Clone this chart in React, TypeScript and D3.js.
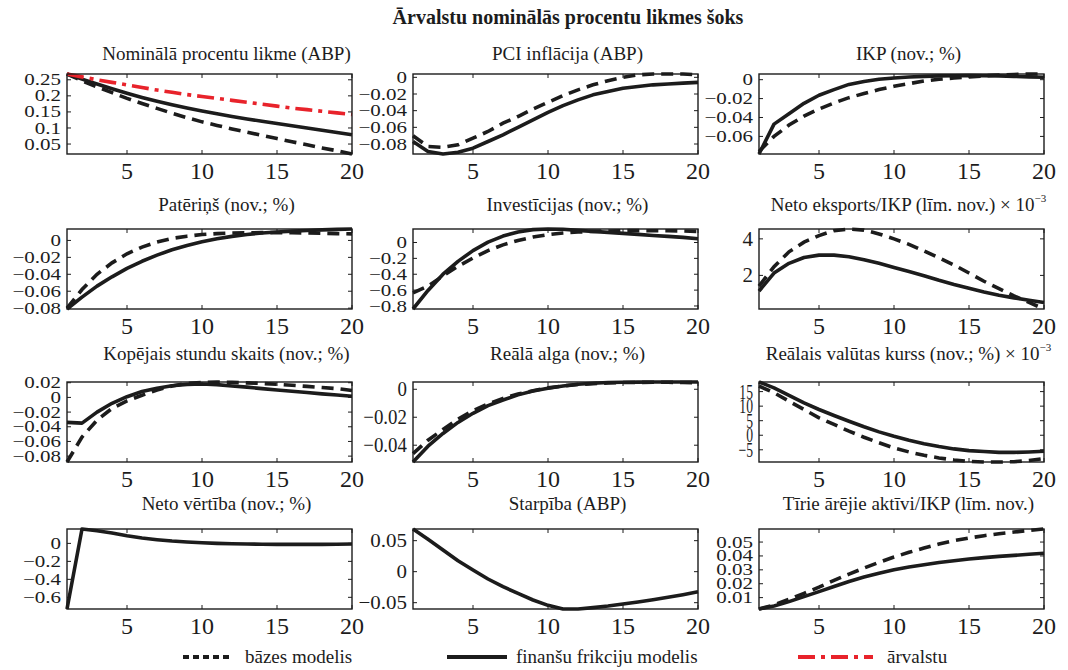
import React from 'react';
import * as d3 from 'd3';

// horizon (quarters)
const quarters = [1, 2, 3, 4, 5, 6, 7, 8, 9, 10, 11, 12, 13, 14, 15, 16, 17, 18, 19, 20];
const xTicks = [5, 10, 15, 20];

// Nominālā procentu likme (ABP)
const rateBase = [0.268, 0.247, 0.228, 0.210, 0.192, 0.176, 0.161, 0.146, 0.132, 0.119, 0.108, 0.097, 0.087, 0.077, 0.067, 0.057, 0.048, 0.038, 0.029, 0.019];
const rateFin = [0.268, 0.252, 0.237, 0.222, 0.208, 0.195, 0.183, 0.172, 0.162, 0.153, 0.144, 0.136, 0.128, 0.121, 0.114, 0.107, 0.100, 0.093, 0.086, 0.079];
const rateForeign = [0.268, 0.259, 0.250, 0.242, 0.234, 0.226, 0.218, 0.211, 0.204, 0.198, 0.192, 0.186, 0.180, 0.174, 0.168, 0.162, 0.157, 0.152, 0.147, 0.142];
const rateTicks = [0.05, 0.1, 0.15, 0.2, 0.25];

// PCI inflācija (ABP)
const inflBase = [-0.070, -0.083, -0.084, -0.081, -0.073, -0.065, -0.055, -0.047, -0.038, -0.030, -0.022, -0.015, -0.009, -0.004, 0.000, 0.003, 0.004, 0.004, 0.004, 0.003];
const inflFin = [-0.077, -0.089, -0.092, -0.090, -0.085, -0.077, -0.069, -0.060, -0.051, -0.042, -0.034, -0.027, -0.021, -0.017, -0.013, -0.011, -0.009, -0.008, -0.007, -0.006];
const inflTicks = [0, -0.02, -0.04, -0.06, -0.08];

// IKP (nov.; %)
const gdpBase = [-0.076, -0.060, -0.048, -0.0386, -0.031, -0.0246, -0.019, -0.0147, -0.0105, -0.007, -0.0042, -0.0014, 0.0004, 0.0018, 0.003, 0.004, 0.005, 0.0055, 0.006, 0.006];
const gdpFin = [-0.0786, -0.047, -0.036, -0.025, -0.0165, -0.0105, -0.005, -0.002, 0.0004, 0.0018, 0.0028, 0.0035, 0.004, 0.0042, 0.0043, 0.0042, 0.004, 0.0035, 0.003, 0.0025];
const gdpTicks = [0, -0.02, -0.04, -0.06];

// Patēriņš (nov.; %)
const consBase = [-0.080, -0.058, -0.040, -0.0265, -0.0158, -0.0079, -0.002, 0.0024, 0.005, 0.007, 0.008, 0.0087, 0.009, 0.0092, 0.0092, 0.009, 0.0088, 0.0085, 0.008, 0.0077];
const consFin = [-0.081, -0.067, -0.054, -0.043, -0.033, -0.0246, -0.0174, -0.011, -0.006, -0.0016, 0.002, 0.0048, 0.0071, 0.0087, 0.0099, 0.011, 0.0118, 0.0125, 0.013, 0.0135];
const consTicks = [0, -0.02, -0.04, -0.06, -0.08];

// Investīcijas (nov.; %)
const invBase = [-0.634, -0.55, -0.42, -0.30, -0.196, -0.102, -0.03, 0.026, 0.068, 0.098, 0.119, 0.132, 0.14, 0.145, 0.149, 0.149, 0.148, 0.147, 0.145, 0.140];
const invFin = [-0.838, -0.604, -0.40, -0.238, -0.102, 0.004, 0.081, 0.132, 0.162, 0.170, 0.166, 0.153, 0.140, 0.128, 0.115, 0.102, 0.089, 0.077, 0.064, 0.047];
const invTicks = [0, -0.2, -0.4, -0.6, -0.8];

// Neto eksports/IKP (līm. nov.) x 10^-3
const nxBase = [1.41, 2.48, 3.29, 3.82, 4.18, 4.45, 4.54, 4.48, 4.27, 4.0, 3.7, 3.34, 2.96, 2.57, 2.13, 1.68, 1.27, 0.88, 0.52, 0.16];
const nxFin = [1.14, 2.125, 2.66, 2.98, 3.11, 3.11, 3.02, 2.86, 2.66, 2.43, 2.21, 1.98, 1.73, 1.5, 1.29, 1.09, 0.91, 0.77, 0.64, 0.52];
const nxTicks = [2, 4];

// Kopējais stundu skaits (nov.; %)
const hoursBase = [-0.088, -0.054, -0.031, -0.015, -0.0047, 0.003, 0.010, 0.0156, 0.019, 0.0205, 0.021, 0.0205, 0.0198, 0.019, 0.018, 0.0165, 0.015, 0.0135, 0.012, 0.0093];
const hoursFin = [-0.034, -0.035, -0.020, -0.008, 0.001, 0.008, 0.0125, 0.016, 0.0178, 0.0183, 0.0174, 0.0156, 0.014, 0.012, 0.010, 0.0083, 0.0066, 0.0048, 0.0032, 0.0015];
const hoursTicks = [0.02, 0, -0.02, -0.04, -0.06, -0.08];

// Reālā alga (nov.; %)
const wageBase = [-0.046, -0.0364, -0.0287, -0.0213, -0.0153, -0.0105, -0.0065, -0.0034, -0.001, 0.001, 0.0024, 0.0034, 0.004, 0.0045, 0.0048, 0.0049, 0.005, 0.005, 0.0048, 0.0047];
const wageFin = [-0.052, -0.0407, -0.0316, -0.0237, -0.0172, -0.0117, -0.0077, -0.004, -0.0012, 0.0007, 0.0024, 0.0036, 0.0043, 0.0048, 0.005, 0.0051, 0.0052, 0.0052, 0.0052, 0.0052];
const wageTicks = [0, -0.02, -0.04];

// Reālais valūtas kurss (nov.; %) x 10^-3
const rerBase = [16.9, 14.6, 11.7, 8.85, 6.0, 3.7, 1.4, -0.7, -2.6, -4.4, -5.75, -6.9, -7.8, -8.5, -9.0, -9.2, -9.2, -9.1, -8.7, -8.0];
const rerFin = [18.3, 16.3, 13.7, 11.1, 8.85, 6.8, 4.8, 2.9, 1.15, -0.35, -1.7, -2.9, -3.9, -4.7, -5.3, -5.6, -5.9, -5.9, -5.75, -5.5];
const rerTicks = [15, 10, 5, 0, -5];

// Neto vērtība (nov.; %)
const nwFin = [-0.73, 0.16, 0.14, 0.115, 0.085, 0.059, 0.041, 0.026, 0.015, 0.007, 0.0, -0.004, -0.007, -0.009, -0.011, -0.011, -0.011, -0.011, -0.009, -0.007];
const nwTicks = [0, -0.2, -0.4, -0.6];

// Starpība (ABP)
const spreadFin = [0.0688, 0.0522, 0.0349, 0.0177, 0.0027, -0.0118, -0.0242, -0.035, -0.0457, -0.0543, -0.0602, -0.0602, -0.058, -0.0554, -0.0522, -0.0489, -0.0452, -0.0414, -0.0371, -0.0323];
const spreadTicks = [0.05, 0, -0.05];

// Tīrie ārējie aktīvi/IKP (līm. nov.)
const nfaBase = [0.0018, 0.0047, 0.0088, 0.0131, 0.0175, 0.0224, 0.0269, 0.0313, 0.0354, 0.0392, 0.0426, 0.0457, 0.0486, 0.051, 0.0529, 0.0546, 0.056, 0.0572, 0.0584, 0.0594];
const nfaFin = [0.0018, 0.004, 0.0071, 0.0107, 0.0143, 0.018, 0.0216, 0.0248, 0.0276, 0.030, 0.032, 0.0337, 0.0353, 0.0366, 0.0378, 0.0388, 0.0397, 0.0404, 0.0412, 0.0419];
const nfaTicks = [0.01, 0.02, 0.03, 0.04, 0.05];

type PanelDef = {
  title: string;
  sup?: string;
  fin: number[];
  base?: number[];
  foreign?: number[];
  ticks: number[];
  squash?: [number, number]; // y tick label stretch (x, y)
};

const panels: PanelDef[] = [
  { title: 'Nominālā procentu likme (ABP)', fin: rateFin, base: rateBase, foreign: rateForeign, ticks: rateTicks },
  { title: 'PCI inflācija  (ABP)', fin: inflFin, base: inflBase, ticks: inflTicks },
  { title: 'IKP (nov.; %)', fin: gdpFin, base: gdpBase, ticks: gdpTicks },
  { title: 'Patēriņš (nov.; %)', fin: consFin, base: consBase, ticks: consTicks },
  { title: 'Investīcijas (nov.; %)', fin: invFin, base: invBase, ticks: invTicks },
  { title: 'Neto eksports/IKP (līm. nov.) × 10', sup: '−3', fin: nxFin, base: nxBase, ticks: nxTicks, squash: [1, 1] },
  { title: 'Kopējais stundu skaits (nov.; %)', fin: hoursFin, base: hoursBase, ticks: hoursTicks },
  { title: 'Reālā alga (nov.; %)', fin: wageFin, base: wageBase, ticks: wageTicks, squash: [0.9, 1] },
  { title: 'Reālais valūtas kurss (nov.; %) × 10', sup: '−3', fin: rerFin, base: rerBase, ticks: rerTicks, squash: [0.65, 1] },
  { title: 'Neto vērtība (nov.; %)', fin: nwFin, ticks: nwTicks },
  { title: 'Starpība (ABP)', fin: spreadFin, ticks: spreadTicks, squash: [1, 0.9] },
  { title: 'Tīrie ārējie aktīvi/IKP (līm. nov.)', fin: nfaFin, base: nfaBase, ticks: nfaTicks },
];

const FONT = '"Liberation Serif", "Times New Roman", serif';
const colLeft = [67, 413, 759];
const rowTop = [74, 229, 382, 529];
const W = 285, H = 80;
const titleGap = [14, 18, 22, 19];
const titleShift = [17, 12, 7];
const INK = '#1c1c1c';
const RED = '#e8232b';
const fmt = d3.format('~g');

function Panel({ p, left, top, tx, ty }: { p: PanelDef; left: number; top: number; tx: number; ty: number }) {
  const x = d3.scaleLinear().domain([1, 20]).range([left, left + W]);
  const all = [...p.fin, ...(p.base || []), ...(p.foreign || [])];
  const ext = d3.extent(all) as [number, number];
  const y = d3.scaleLinear().domain(ext).range([top + H, top]);
  const line = d3.line<number>().x((_, i) => x(quarters[i])).y(d => y(d));
  const [sx, sy] = p.squash || [1, 0.8];
  return (
    <g>
      <text x={tx} y={ty} textAnchor="middle" fontSize={19} fontFamily={FONT} fill={INK}>
        {p.title}
        {p.sup && <tspan dy={-9} fontSize={11}>{p.sup}</tspan>}
      </text>
      {p.base && <path d={line(p.base) || ''} fill="none" stroke={INK} strokeWidth={3.6} strokeDasharray="12,7" />}
      <path d={line(p.fin) || ''} fill="none" stroke={INK} strokeWidth={3.6} strokeLinejoin="round" />
      {p.foreign && <path d={line(p.foreign) || ''} fill="none" stroke={RED} strokeWidth={3.6} strokeDasharray="17,6,4,6" />}
      <rect x={left} y={top} width={W} height={H} fill="none" stroke={INK} strokeWidth={1.4} />
      {p.ticks.map(t => (
        <g key={'y' + t}>
          <line x1={left} x2={left + 4} y1={y(t)} y2={y(t)} stroke={INK} strokeWidth={1} />
          <line x1={left + W} x2={left + W - 4} y1={y(t)} y2={y(t)} stroke={INK} strokeWidth={1} />
          <text
            transform={`translate(${left - 6},${y(t)}) scale(${sx},${sy})`}
            dy="0.33em"
            textAnchor="end"
            fontSize={21}
            fontFamily={FONT}
            fill={INK}
          >
            {fmt(t)}
          </text>
        </g>
      ))}
      {xTicks.map(t => (
        <g key={'x' + t}>
          <line x1={x(t)} x2={x(t)} y1={top + H} y2={top + H - 4} stroke={INK} strokeWidth={1} />
          <line x1={x(t)} x2={x(t)} y1={top} y2={top + 4} stroke={INK} strokeWidth={1} />
          <text x={x(t)} y={top + H + 25} textAnchor="middle" fontSize={24} fontFamily={FONT} fill={INK}>
            {t}
          </text>
        </g>
      ))}
    </g>
  );
}

export default function App() {
  return (
    <svg width={1068} height={670} style={{ position: 'absolute', left: 0, top: 0, background: '#fff' }}>
      <rect width={1068} height={670} fill="#fff" />
      <text x={568} y={24} textAnchor="middle" fontSize={20} fontWeight="bold" fontFamily={FONT} fill={INK}>
        Ārvalstu nominālās procentu likmes šoks
      </text>
      {panels.map((p, i) => {
        const c = i % 3, r = Math.floor(i / 3);
        const left = colLeft[c], top = rowTop[r];
        return <Panel key={i} p={p} left={left} top={top} tx={left + W / 2 + titleShift[c]} ty={top - titleGap[r]} />;
      })}
      <g fontFamily={FONT} fontSize={19} fill={INK}>
        <line x1={183} x2={230} y1={657} y2={657} stroke={INK} strokeWidth={4} strokeDasharray="6,4" />
        <text x={245} y={663}>bāzes modelis</text>
        <line x1={447} x2={507} y1={657} y2={657} stroke={INK} strokeWidth={4} />
        <text x={516} y={663}>finanšu frikciju modelis</text>
        <line x1={798} x2={873} y1={657} y2={657} stroke={RED} strokeWidth={4} strokeDasharray="17,6,4,6" />
        <text x={887} y={663}>ārvalstu</text>
      </g>
    </svg>
  );
}
